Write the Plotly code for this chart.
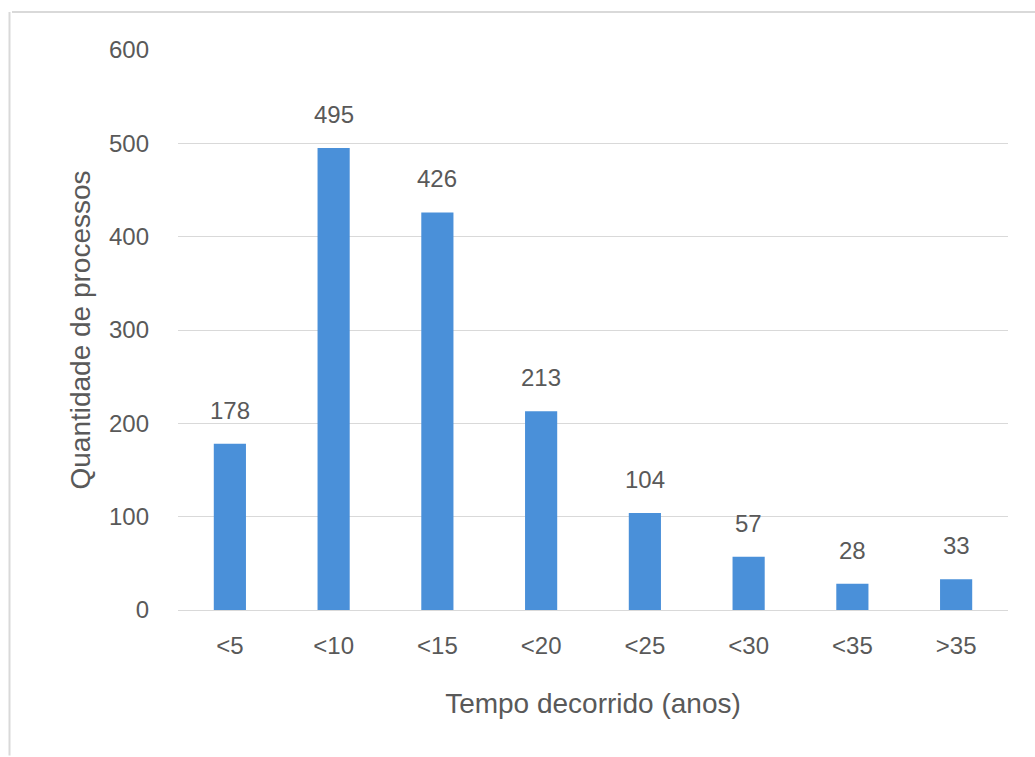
import plotly.graph_objects as go

categories = ["<5", "<10", "<15", "<20", "<25", "<30", "<35", ">35"]
processos = [178, 495, 426, 213, 104, 57, 28, 33]
y_ticks = [0, 100, 200, 300, 400, 500, 600]

FONT = "Liberation Sans, Arial, sans-serif"
GREY = "#595959"

fig = go.Figure(
    go.Bar(
        x=categories,
        y=processos,
        marker=dict(color="#4A90D9", line=dict(width=0)),
        width=0.31,
        hoverinfo="x+y",
    )
)

# value labels above each bar
for cat, val in zip(categories, processos):
    fig.add_annotation(
        x=cat, y=val, text=str(val), showarrow=False,
        yanchor="bottom", yshift=18,
        font=dict(family=FONT, size=24, color=GREY),
    )

fig.update_layout(
    width=1035,
    height=757,
    margin=dict(l=178, r=27, t=50, b=147),
    paper_bgcolor="white",
    plot_bgcolor="white",
    showlegend=False,
    font=dict(family=FONT, color=GREY),
    xaxis=dict(
        title=dict(text="Tempo decorrido (anos)", font=dict(size=28, color=GREY), standoff=35),
        tickfont=dict(size=24, color=GREY),
        showgrid=False,
        showline=True,
        linecolor="#D9D9D9",
        linewidth=1,
        ticks="",
        ticklabelstandoff=14,
    ),
    yaxis=dict(
        title=dict(text="Quantidade de processos", font=dict(size=28, color=GREY), standoff=10),
        tickfont=dict(size=24, color=GREY),
        range=[0, 600],
        tickvals=y_ticks,
        showgrid=True,
        gridcolor="#D9D9D9",
        gridwidth=1,
        zeroline=False,
        ticks="",
        ticklabelstandoff=28,
    ),
    shapes=[
        dict(type="line", xref="paper", yref="paper", x0=-0.2, x1=1.05, y0=1.068, y1=1.068,
             line=dict(color="#D9D9D9", width=2)),
        dict(type="line", xref="paper", yref="paper", x0=-0.203, x1=-0.203, y0=1.068, y1=-0.26,
             line=dict(color="#D9D9D9", width=2)),
    ],
)

fig.write_html("out.html")
